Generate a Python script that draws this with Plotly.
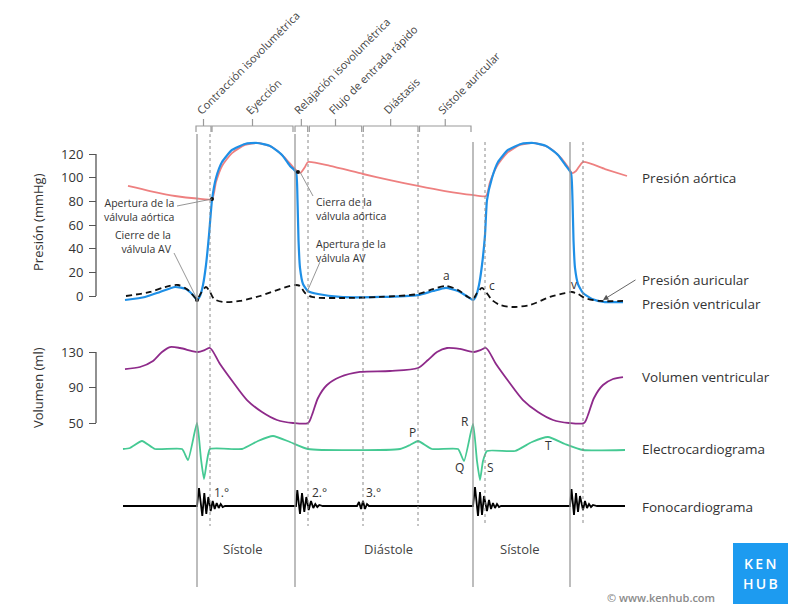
import plotly.graph_objects as go

W, H = 800, 612
FONT = "Open Sans"

# ---------------- data (time in arbitrary units along the cycle) ----------------
t_aortic = [128, 150, 175, 197, 212, 216, 222, 232, 245, 258, 272, 284, 293, 298, 301, 305, 308,
            330, 363, 390, 418, 445, 472, 486, 490, 497, 507, 520, 534, 548, 560, 568, 572, 576,
            583, 605, 627]
p_aortic = [93.0, 88.7, 84.5, 82.4, 82.0, 96.3, 109.9, 120.8, 127.6, 129.3, 125.9, 117.5, 109.0,
            104.8, 104.4, 109.0, 113.2, 109.9, 103.1, 98.0, 93.0, 88.7, 85.4, 84.5, 96.3, 109.9,
            120.8, 127.6, 129.3, 125.9, 117.5, 109.0, 103.9, 105.6, 113.2, 107.3, 101.4]

t_ventricle = [125, 145, 160, 175, 186, 193, 197, 200, 203, 206, 209, 212, 216, 222, 232, 245, 257,
               270, 282, 290, 296, 297.5, 298.5, 300, 303, 308, 318, 340, 380, 418, 433, 446, 458,
               468, 473, 476, 479, 482, 485, 487, 492, 498, 508, 521, 533, 546, 558, 566, 571,
               572.5, 573.5, 575, 578, 583, 592, 605, 623]
p_ventricle = [-3.4, -0.8, 3.4, 7.6, 5.9, 0.8, -3.4, 0.0, 9.3, 26.2, 51.5, 81.1, 99.7, 113.2, 123.4,
               128.5, 129.3, 126.8, 119.2, 109.9, 104.8, 81.1, 47.3, 23.7, 10.1, 4.2, 1.7, -0.8,
               -0.8, 0.8, 4.2, 6.8, 4.2, -0.8, -3.4, 0.0, 9.3, 26.2, 51.5, 81.1, 99.7, 113.2, 123.4,
               128.5, 129.3, 126.8, 119.2, 109.9, 103.9, 81.1, 47.3, 23.7, 10.1, 2.5, -2.5, -5.1, -5.1]

t_atrium = [126, 150, 165, 178, 188, 197, 201, 206, 210, 214, 223, 240, 260, 280, 295, 300, 305, 312,
            340, 380, 418, 433, 446, 458, 468, 473, 477, 482, 486, 492, 500, 512, 530, 550, 565,
            572, 578, 585, 600, 623]
p_atrium = [0.0, 3.4, 7.6, 9.3, 5.1, -2.5, 2.5, 7.6, 3.4, -2.5, -5.1, -4.2, 0.0, 5.9, 9.3, 8.5, 2.5,
            -0.8, -1.7, -0.8, 1.7, 5.9, 8.5, 5.1, -0.8, -2.5, 2.5, 6.8, 3.4, -3.4, -7.6, -9.3, -7.6,
            -0.8, 2.5, 3.4, 1.7, -1.7, -4.2, -4.2]

t_volume = [125, 140, 153, 162, 170, 180, 192, 198, 205, 210, 220, 233, 247, 262, 277, 293, 308, 312,
            318, 327, 340, 360, 390, 418, 428, 437, 447, 460, 474, 481, 486, 496, 509, 523, 538,
            553, 569, 584, 588, 594, 603, 613, 623]
v_volume = [110.8, 113.1, 119.9, 130.0, 135.6, 134.5, 131.1, 130.0, 132.3, 134.5, 116.5, 96.2, 75.9,
            62.4, 53.4, 50.0, 50.0, 59.0, 78.2, 92.8, 101.8, 107.5, 108.6, 112.0, 121.0, 130.0,
            134.5, 133.4, 130.0, 132.3, 134.5, 116.5, 96.2, 75.9, 62.4, 53.4, 50.0, 50.0, 59.0,
            78.2, 92.8, 99.6, 101.8]

# ECG (arbitrary units, baseline 0)
t_ecg = [123, 130, 142, 155, 182, 188, 197, 201, 204, 207, 210, 242, 258, 273, 290, 308, 400, 410,
         418, 432, 458, 464, 473, 477, 480, 483, 487, 515, 532, 548, 565, 583, 625]
v_ecg = [0, 1, 8, 0, 0, -11, 26, -10, -30, -12, 0, 0, 8, 13, 7, 0, 0, 4, 8, 0, 0, -12, 25, -12, -31,
         -12, -2, -2, 7, 12, 5, -1, -1]

# Phonocardiogram (arbitrary units, baseline 0)
t_phono = [123, 197, 199, 202.3, 204.3, 206.3, 208.3, 210.7, 212.7, 214.7, 216.7, 218.7, 220.7, 222.7,
           225, 296, 297.3, 300, 302, 304.3, 306.3, 308.7, 311, 313.3, 315.3, 317.3, 319.3, 322.7,
           357, 359, 361, 363, 365, 367, 369,
           473, 475, 478, 480, 482, 484, 487, 489, 491, 493, 495, 497, 499, 501,
           570, 571.5, 574, 576, 578, 580, 583, 585, 587, 589, 591, 593, 597, 625]
v_phono = [0, 0, 18, -10, 13, -8, 9, -5, 5, -3, 3, -2, 2, -1,
           0, 0, 16, -8, 13, -6, 9, -4, 5, -2, 2, -1, 1, 0,
           0, 4, -3, 5, -3, 2, 0,
           0, 19, -10, 14, -9, 10, -5, 6, -3, 3, -2, 2, -1, 0,
           0, 17, -9, 13, -6, 10, -4, 5, -2, 2, -1, 1, 0, 0]

# valve events (dots)
event_t = [212, 197, 298]
event_p = [82.0, -3.4, 104.8]

solid_events = [197, 295, 473, 570]
dashed_events = [210, 308, 363, 418, 485, 583]

phase_names = ["Contracción isovolumétrica", "Eyección", "Relajación isovolumétrica",
               "Flujo de entrada rápido", "Diástasis", "Sístole auricular"]
phase_start = [196, 212, 295, 309.3, 363.3, 419.5]
phase_end = [211, 293, 307.7, 361.7, 418, 471]

pressure_ticks = [0, 20, 40, 60, 80, 100, 120]
volume_ticks = [50, 90, 130]


# ---------------- helpers for layout placement ----------------
def yp(py):
    return 1 - py / H


def xp(px):
    return px / W


GRAY = "#9a9a9a"
TXT = "#333333"
C_AORT = "#ee8080"
C_VENT = "#1e8fe6"
C_VOL = "#8e2a8a"
C_ECG = "#45c993"

fig = go.Figure()

fig.add_trace(go.Scatter(x=t_aortic, y=p_aortic, mode="lines", yaxis="y",
                         line=dict(color=C_AORT, width=1.8, shape="spline", smoothing=0.6)))
fig.add_trace(go.Scatter(x=t_ventricle, y=p_ventricle, mode="lines", yaxis="y",
                         line=dict(color=C_VENT, width=2.2, shape="spline", smoothing=0.5)))
fig.add_trace(go.Scatter(x=t_atrium, y=p_atrium, mode="lines", yaxis="y",
                         line=dict(color="#111111", width=1.8, dash="6px,4px", shape="spline",
                                   smoothing=0.8)))
fig.add_trace(go.Scatter(x=event_t, y=event_p, mode="markers", yaxis="y",
                         marker=dict(color="#111111", size=4)))
fig.add_trace(go.Scatter(x=t_volume, y=v_volume, mode="lines", yaxis="y2",
                         line=dict(color=C_VOL, width=1.8, shape="spline", smoothing=0.8)))
fig.add_trace(go.Scatter(x=t_ecg, y=v_ecg, mode="lines", yaxis="y3",
                         line=dict(color=C_ECG, width=1.8, shape="spline", smoothing=0.5)))
fig.add_trace(go.Scatter(x=t_phono, y=v_phono, mode="lines", yaxis="y4",
                         line=dict(color="#000000", width=1.8)))

shapes = []
# vertical event lines
for i, t in enumerate(solid_events):
    top = 134 if i < 2 else 142
    shapes.append(dict(type="line", xref="x", yref="paper", x0=t, x1=t, y0=yp(top), y1=yp(587),
                       line=dict(color=GRAY, width=1.3)))
for i, t in enumerate(dashed_events):
    top = 134 if i < 4 else 142
    shapes.append(dict(type="line", xref="x", yref="paper", x0=t, x1=t, y0=yp(top), y1=yp(526),
                       line=dict(color="#8a8a8a", width=1, dash="3px,3px")))
# phase brackets
for a, b in zip(phase_start, phase_end):
    c = (a + b) / 2
    path = (f"M {a},{yp(132)} L {a},{yp(126)} L {b},{yp(126)} L {b},{yp(132)} "
            f"M {c},{yp(126)} L {c},{yp(119)}")
    shapes.append(dict(type="path", xref="x", yref="paper", path=path,
                       line=dict(color=GRAY, width=1.2)))
# axis spines
shapes.append(dict(type="line", xref="paper", yref="y", x0=xp(96), x1=xp(96), y0=0, y1=120,
                   line=dict(color="#555555", width=1.3)))
shapes.append(dict(type="line", xref="paper", yref="y2", x0=xp(96), x1=xp(96), y0=50, y1=130,
                   line=dict(color="#555555", width=1.3)))
# leader lines
leaders = [((177, 206), (212, 199)), ((174, 253), (197, 299)), ((300, 172), (313, 196)),
           ((320, 262), (307, 292))]
for (x0, y0), (x1, y1) in leaders:
    shapes.append(dict(type="line", xref="paper", yref="paper", x0=xp(x0), y0=yp(y0),
                       x1=xp(x1), y1=yp(y1), line=dict(color="#8a8a8a", width=0.9)))
# kenhub logo box
shapes.append(dict(type="rect", xref="paper", yref="paper", x0=xp(733), x1=xp(788),
                   y0=yp(604), y1=yp(543), fillcolor="#1d9bf0", line=dict(width=0)))

ann = []


def label(px, py, text, size=13, color=TXT, xanchor="center", align="center", weight=None, **kw):
    font = dict(family=FONT, size=size, color=color)
    if weight:
        font["weight"] = weight
    ann.append(dict(x=xp(px), y=yp(py), xref="paper", yref="paper", text=text, showarrow=False,
                    xanchor=xanchor, yanchor="middle", align=align, font=font, **kw))


# rotated phase labels
for name, a, b in zip(phase_names, phase_start, phase_end):
    c = (a + b) / 2
    ann.append(dict(x=c - 13, y=yp(120), xref="x", yref="paper", text=name, showarrow=False,
                    textangle=-45, xanchor="left", yanchor="bottom",
                    font=dict(family=FONT, size=11, color="#444444")))

# axis titles
label(38, 222, "Presión (mmHg)", size=13, textangle=-90)
label(38, 388, "Volumen (ml)", size=13, textangle=-90)

# valve annotations
label(176, 210, "Apertura de la<br>válvula aórtica", size=10.5, xanchor="right", align="right")
label(174, 242, "Cierre de la<br>válvula AV", size=10.5, xanchor="right", align="right")
label(314, 209, "Cierra de la<br>válvula aórtica", size=10.5, xanchor="left", align="left")
label(314, 251, "Apertura de la<br>válvula AV", size=10.5, xanchor="left", align="left")

# wave letters
label(446, 275, "a", size=12)
label(492, 285, "c", size=12)
label(574, 284, "v", size=12)
label(412, 432, "P", size=12)
label(465, 421, "R", size=12)
label(460, 467, "Q", size=12)
label(490, 467, "S", size=12)
label(548, 445, "T", size=12)
label(221, 492, "1.°", size=12)
label(319, 492, "2.°", size=12)
label(373, 492, "3.°", size=12)

# right-side labels
label(640, 178, "Presión aórtica", size=13.5, xanchor="left")
label(640, 280, "Presión auricular", size=13.5, xanchor="left")
label(640, 304, "Presión ventricular", size=13.5, xanchor="left")
label(640, 377, "Volumen ventricular", size=13.5, xanchor="left")
label(640, 449, "Electrocardiograma", size=13.5, xanchor="left")
label(640, 507, "Fonocardiograma", size=13.5, xanchor="left")

# arrow for atrial pressure
ann.append(dict(x=xp(603), y=yp(300), xref="paper", yref="paper", text="", showarrow=True,
                ax=34, ay=-21, arrowhead=2, arrowsize=1.2, arrowwidth=0.9, arrowcolor="#555555"))

# phases bottom
label(243, 549, "Sístole", size=13, color="#444444")
label(388, 549, "Diástole", size=13, color="#444444")
label(520, 549, "Sístole", size=13, color="#444444")

# credits
label(717, 597, "© www.kenhub.com", size=11, color="#8a8a8a", xanchor="right", weight=600)
label(760, 563, "K\u2009E\u2009N", size=14, color="#ffffff", weight=600)
label(760, 583, "H\u2009U\u2009B", size=14, color="#ffffff", weight=600)

axis_common = dict(showgrid=False, zeroline=False, showline=False)

fig.update_layout(
    width=W, height=H, autosize=False,
    margin=dict(l=0, r=0, t=0, b=0),
    paper_bgcolor="white", plot_bgcolor="rgba(0,0,0,0)",
    showlegend=False,
    xaxis=dict(range=[0, 800], domain=[0, 1], visible=False, **axis_common),
    yaxis=dict(domain=[yp(312), yp(140)], range=[-13.52, 131.83], anchor="free", position=xp(96),
               side="left", tickvals=pressure_ticks, ticks="outside", ticklen=7, tickwidth=1.3,
               tickcolor="#555555", tickfont=dict(family=FONT, size=13, color=TXT),
               ticklabelstandoff=3, **axis_common),
    yaxis2=dict(domain=[yp(436), yp(338)], range=[35.35, 145.77], anchor="free", position=xp(96),
                side="left", tickvals=volume_ticks, ticks="outside", ticklen=7, tickwidth=1.3,
                tickcolor="#555555", tickfont=dict(family=FONT, size=13, color=TXT),
                ticklabelstandoff=3, **axis_common),
    yaxis3=dict(domain=[yp(490), yp(412)], range=[-41, 37], anchor="x", visible=False, **axis_common),
    yaxis4=dict(domain=[yp(532), yp(480)], range=[-26, 26], anchor="x", visible=False, **axis_common),
    shapes=shapes,
    annotations=ann,
)

fig.write_html("out.html", config={"displayModeBar": False},
               post_script="document.body.style.margin='0';document.body.style.overflow='hidden';")
